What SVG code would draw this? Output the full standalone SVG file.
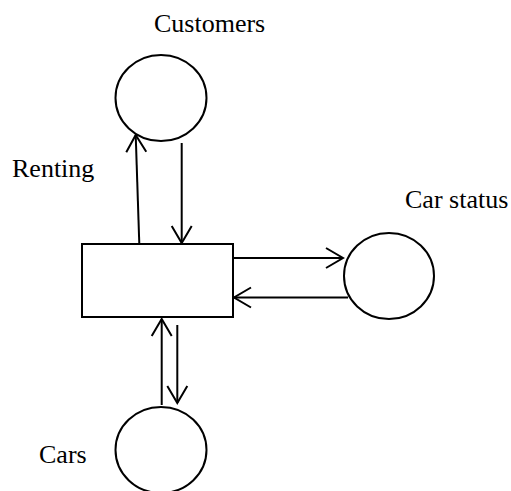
<svg xmlns="http://www.w3.org/2000/svg" width="511" height="491" viewBox="0 0 511 491">
<style>
.shape{fill:#fff;stroke:#000;stroke-width:2}
.lbl{font-family:"Liberation Serif","Times New Roman",serif;font-size:26px;fill:#000}
.conn line{stroke:#000;stroke-width:2}
</style>
<defs>
<marker id="arr" markerUnits="userSpaceOnUse" markerWidth="24" markerHeight="24" viewBox="-20 -12 24 24" refX="0" refY="0" orient="auto" overflow="visible">
<path d="M-17,-10 L0,0 L-17,10" fill="none" stroke="#000" stroke-width="2"/>
</marker>
</defs>
<rect width="511" height="491" fill="#fff"/>
<g id="customers">
<ellipse class="shape" cx="161" cy="98" rx="45.5" ry="43"/>
<text class="lbl" x="154" y="32">Customers</text>
</g>
<g id="renting">
<rect class="shape" x="82" y="244" width="151" height="73"/>
<text class="lbl" x="12" y="177">Renting</text>
</g>
<g id="carstatus">
<ellipse class="shape" cx="389" cy="276" rx="45" ry="43"/>
<text class="lbl" x="405" y="208">Car status</text>
</g>
<g id="cars">
<ellipse class="shape" cx="161" cy="450" rx="45.5" ry="43"/>
<text class="lbl" x="39" y="463">Cars</text>
</g>
<g id="connectors" class="conn">
<line x1="139.3" y1="244" x2="135.7" y2="135" marker-end="url(#arr)"/>
<line x1="181.7" y1="143" x2="181.7" y2="243" marker-end="url(#arr)"/>
<line x1="233" y1="258" x2="343" y2="258" marker-end="url(#arr)"/>
<line x1="348" y1="297.5" x2="234" y2="297.5" marker-end="url(#arr)"/>
<line x1="161.7" y1="405" x2="161.7" y2="319" marker-end="url(#arr)"/>
<line x1="177.3" y1="325" x2="177.3" y2="403" marker-end="url(#arr)"/>
</g>
</svg>
